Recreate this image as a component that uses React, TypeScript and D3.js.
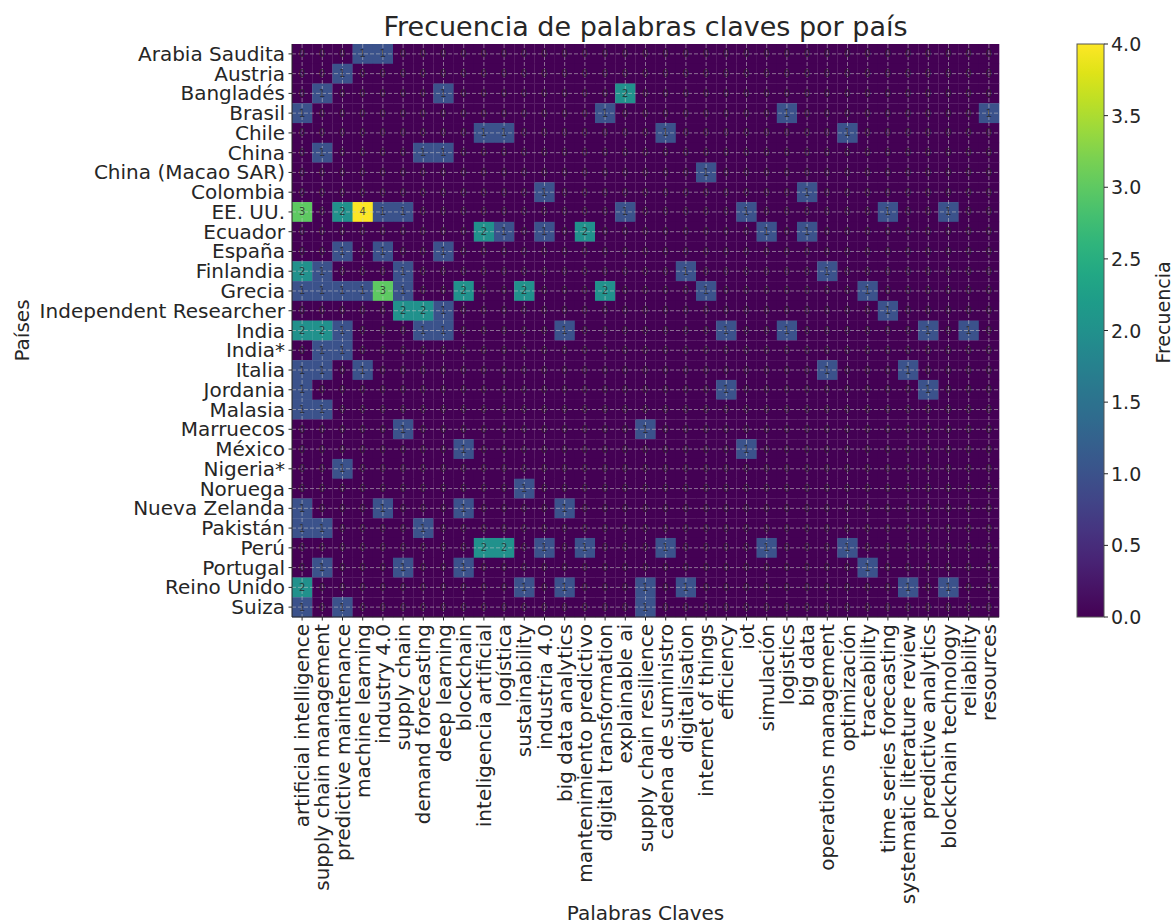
import React from "react";
import * as d3 from "d3";

const countries = [
  "Arabia Saudita", "Austria", "Bangladés", "Brasil", "Chile", "China", "China (Macao SAR)",
  "Colombia", "EE. UU.", "Ecuador", "España", "Finlandia", "Grecia", "Independent Researcher",
  "India", "India*", "Italia", "Jordania", "Malasia", "Marruecos", "México", "Nigeria*",
  "Noruega", "Nueva Zelanda", "Pakistán", "Perú", "Portugal", "Reino Unido", "Suiza",
];

const keywords = [
  "artificial intelligence", "supply chain management", "predictive maintenance", "machine learning",
  "industry 4.0", "supply chain", "demand forecasting", "deep learning", "blockchain",
  "inteligencia artificial", "logística", "sustainability", "industria 4.0", "big data analytics",
  "mantenimiento predictivo", "digital transformation", "explainable ai", "supply chain resilience",
  "cadena de suministro", "digitalisation", "internet of things", "efficiency", "iot", "simulación",
  "logistics", "big data", "operations management", "optimización", "traceability",
  "time series forecasting", "systematic literature review", "predictive analytics",
  "blockchain technology", "reliability", "resources",
];

// one row per country, one value per keyword (35)
const counts: number[][] = [
  [0,0,0,1,1, 0,0,0,0,0, 0,0,0,0,0, 0,0,0,0,0, 0,0,0,0,0, 0,0,0,0,0, 0,0,0,0,0],
  [0,0,1,0,0, 0,0,0,0,0, 0,0,0,0,0, 0,0,0,0,0, 0,0,0,0,0, 0,0,0,0,0, 0,0,0,0,0],
  [0,1,0,0,0, 0,0,1,0,0, 0,0,0,0,0, 0,2,0,0,0, 0,0,0,0,0, 0,0,0,0,0, 0,0,0,0,0],
  [1,0,0,0,0, 0,0,0,0,0, 0,0,0,0,0, 1,0,0,0,0, 0,0,0,0,1, 0,0,0,0,0, 0,0,0,0,1],
  [0,0,0,0,0, 0,0,0,0,1, 1,0,0,0,0, 0,0,0,1,0, 0,0,0,0,0, 0,0,1,0,0, 0,0,0,0,0],
  [0,1,0,0,0, 0,1,1,0,0, 0,0,0,0,0, 0,0,0,0,0, 0,0,0,0,0, 0,0,0,0,0, 0,0,0,0,0],
  [0,0,0,0,0, 0,0,0,0,0, 0,0,0,0,0, 0,0,0,0,0, 1,0,0,0,0, 0,0,0,0,0, 0,0,0,0,0],
  [0,0,0,0,0, 0,0,0,0,0, 0,0,1,0,0, 0,0,0,0,0, 0,0,0,0,0, 1,0,0,0,0, 0,0,0,0,0],
  [3,0,2,4,1, 1,0,0,0,0, 0,0,0,0,0, 0,1,0,0,0, 0,0,1,0,0, 0,0,0,0,1, 0,0,1,0,0],
  [0,0,0,0,0, 0,0,0,0,2, 1,0,1,0,2, 0,0,0,0,0, 0,0,0,1,0, 1,0,0,0,0, 0,0,0,0,0],
  [0,0,1,0,1, 0,0,1,0,0, 0,0,0,0,0, 0,0,0,0,0, 0,0,0,0,0, 0,0,0,0,0, 0,0,0,0,0],
  [2,1,0,0,0, 1,0,0,0,0, 0,0,0,0,0, 0,0,0,0,1, 0,0,0,0,0, 0,1,0,0,0, 0,0,0,0,0],
  [1,1,1,1,3, 1,0,0,2,0, 0,2,0,0,0, 2,0,0,0,0, 1,0,0,0,0, 0,0,0,1,0, 0,0,0,0,0],
  [0,0,0,0,0, 2,2,1,0,0, 0,0,0,0,0, 0,0,0,0,0, 0,0,0,0,0, 0,0,0,0,1, 0,0,0,0,0],
  [2,2,1,0,0, 0,1,1,0,0, 0,0,0,1,0, 0,0,0,0,0, 0,1,0,0,1, 0,0,0,0,0, 0,1,0,1,0],
  [0,1,1,0,0, 0,0,0,0,0, 0,0,0,0,0, 0,0,0,0,0, 0,0,0,0,0, 0,0,0,0,0, 0,0,0,0,0],
  [1,1,0,1,0, 0,0,0,0,0, 0,0,0,0,0, 0,0,0,0,0, 0,0,0,0,0, 0,1,0,0,0, 1,0,0,0,0],
  [1,0,0,0,0, 0,0,0,0,0, 0,0,0,0,0, 0,0,0,0,0, 0,1,0,0,0, 0,0,0,0,0, 0,1,0,0,0],
  [1,1,0,0,0, 0,0,0,0,0, 0,0,0,0,0, 0,0,0,0,0, 0,0,0,0,0, 0,0,0,0,0, 0,0,0,0,0],
  [0,0,0,0,0, 1,0,0,0,0, 0,0,0,0,0, 0,0,1,0,0, 0,0,0,0,0, 0,0,0,0,0, 0,0,0,0,0],
  [0,0,0,0,0, 0,0,0,1,0, 0,0,0,0,0, 0,0,0,0,0, 0,0,1,0,0, 0,0,0,0,0, 0,0,0,0,0],
  [0,0,1,0,0, 0,0,0,0,0, 0,0,0,0,0, 0,0,0,0,0, 0,0,0,0,0, 0,0,0,0,0, 0,0,0,0,0],
  [0,0,0,0,0, 0,0,0,0,0, 0,1,0,0,0, 0,0,0,0,0, 0,0,0,0,0, 0,0,0,0,0, 0,0,0,0,0],
  [1,0,0,0,1, 0,0,0,1,0, 0,0,0,1,0, 0,0,0,0,0, 0,0,0,0,0, 0,0,0,0,0, 0,0,0,0,0],
  [1,1,0,0,0, 0,1,0,0,0, 0,0,0,0,0, 0,0,0,0,0, 0,0,0,0,0, 0,0,0,0,0, 0,0,0,0,0],
  [0,0,0,0,0, 0,0,0,0,2, 2,0,1,0,1, 0,0,0,1,0, 0,0,0,1,0, 0,0,1,0,0, 0,0,0,0,0],
  [0,1,0,0,0, 1,0,0,1,0, 0,0,0,0,0, 0,0,0,0,0, 0,0,0,0,0, 0,0,0,1,0, 0,0,0,0,0],
  [2,0,0,0,0, 0,0,0,0,0, 0,1,0,1,0, 0,0,1,0,1, 0,0,0,0,0, 0,0,0,0,0, 1,0,1,0,0],
  [1,0,1,0,0, 0,0,0,0,0, 0,0,0,0,0, 0,0,1,0,0, 0,0,0,0,0, 0,0,0,0,0, 0,0,0,0,0],
];

const colorTicks = [0, 0.5, 1, 1.5, 2, 2.5, 3, 3.5, 4];

const W = 1171;
const H = 924;
const FONT = "'DejaVu Sans', sans-serif";
const TXT = "#262626";

export default function App() {
  const left = 292, right = 999, top = 44, bottom = 617;
  const x = d3.scaleBand<string>().domain(keywords).range([left, right]).padding(0);
  const y = d3.scaleBand<string>().domain(countries).range([top, bottom]).padding(0);
  const vmax = 4;
  const color = (v: number) => d3.interpolateViridis(v / vmax);

  const cbL = 1077, cbR = 1104;
  const cbY = d3.scaleLinear().domain([0, vmax]).range([bottom, top]);
  const gradStops = d3.range(0, 1.0001, 0.05);

  const cells: { r: string; c: string; v: number }[] = [];
  counts.forEach((row, i) => row.forEach((v, j) => cells.push({ r: countries[i], c: keywords[j], v })));

  const bw = x.bandwidth();
  const bh = y.bandwidth();

  return (
    <svg width={W} height={H} style={{ position: "absolute", left: 0, top: 0, background: "#fff" }} fontFamily={FONT}>
      <defs>
        <linearGradient id="vir" x1="0" y1="1" x2="0" y2="0">
          {gradStops.map((t) => (
            <stop key={t} offset={`${t * 100}%`} stopColor={d3.interpolateViridis(t)} />
          ))}
        </linearGradient>
      </defs>

      {/* cells */}
      {cells.map((d, i) => (
        <rect key={i} x={x(d.c)!} y={y(d.r)!} width={bw + 0.3} height={bh + 0.3} fill={color(d.v)} />
      ))}

      {/* grid */}
      {keywords.map((k) => (
        <line key={"gx" + k} x1={x(k)! + bw / 2} x2={x(k)! + bw / 2} y1={top} y2={bottom}
          stroke="#c8c8c8" strokeOpacity={0.55} strokeWidth={1} strokeDasharray="4,2" />
      ))}
      {countries.map((c) => (
        <line key={"gy" + c} x1={left} x2={right} y1={y(c)! + bh / 2} y2={y(c)! + bh / 2}
          stroke="#c8c8c8" strokeOpacity={0.55} strokeWidth={1} strokeDasharray="4,2" />
      ))}

      {/* annotations */}
      {cells.map((d, i) => (
        <text key={"a" + i} x={x(d.c)! + bw / 2} y={y(d.r)! + bh / 2} fontSize={10}
          textAnchor="middle" dominantBaseline="central" fill={TXT} fillOpacity={0.8}>
          {d.v}
        </text>
      ))}

      {/* axes lines */}
      <line x1={left} x2={left} y1={top} y2={bottom} stroke={TXT} strokeWidth={1} />
      <line x1={left} x2={right} y1={bottom} y2={bottom} stroke={TXT} strokeWidth={1} />

      {/* y ticks */}
      {countries.map((c) => (
        <g key={"yt" + c}>
          <line x1={left - 3.5} x2={left} y1={y(c)! + bh / 2} y2={y(c)! + bh / 2} stroke={TXT} />
          <text x={left - 7} y={y(c)! + bh / 2} fontSize={20} textAnchor="end" dominantBaseline="central" fill={TXT}>
            {c}
          </text>
        </g>
      ))}

      {/* x ticks */}
      {keywords.map((k) => {
        const cx = x(k)! + bw / 2;
        return (
          <g key={"xt" + k}>
            <line x1={cx} x2={cx} y1={bottom} y2={bottom + 3.5} stroke={TXT} />
            <text transform={`translate(${cx},${bottom + 7}) rotate(-90)`} fontSize={20}
              textAnchor="end" dominantBaseline="central" fill={TXT}>
              {k}
            </text>
          </g>
        );
      })}

      {/* titles */}
      <text x={(left + right) / 2} y={26} fontSize={27} textAnchor="middle" dominantBaseline="central" fill={TXT}>
        Frecuencia de palabras claves por país
      </text>
      <text x={(left + right) / 2} y={913} fontSize={20} textAnchor="middle" dominantBaseline="central" fill={TXT}>
        Palabras Claves
      </text>
      <text transform={`translate(22,${(top + bottom) / 2}) rotate(-90)`} fontSize={20} textAnchor="middle"
        dominantBaseline="central" fill={TXT}>
        Países
      </text>

      {/* colorbar */}
      <rect x={cbL} y={top} width={cbR - cbL} height={bottom - top} fill="url(#vir)" stroke="#555" strokeWidth={1} />
      {colorTicks.map((t) => (
        <g key={"ct" + t}>
          <line x1={cbR} x2={cbR + 4} y1={cbY(t)} y2={cbY(t)} stroke={TXT} />
          <text x={cbR + 7} y={cbY(t)} fontSize={19} dominantBaseline="central" fill={TXT}>
            {t.toFixed(1)}
          </text>
        </g>
      ))}
      <text transform={`translate(1163,${(top + bottom) / 2 - 18}) rotate(-90)`} fontSize={19} textAnchor="middle"
        dominantBaseline="central" fill={TXT}>
        Frecuencia
      </text>
    </svg>
  );
}
